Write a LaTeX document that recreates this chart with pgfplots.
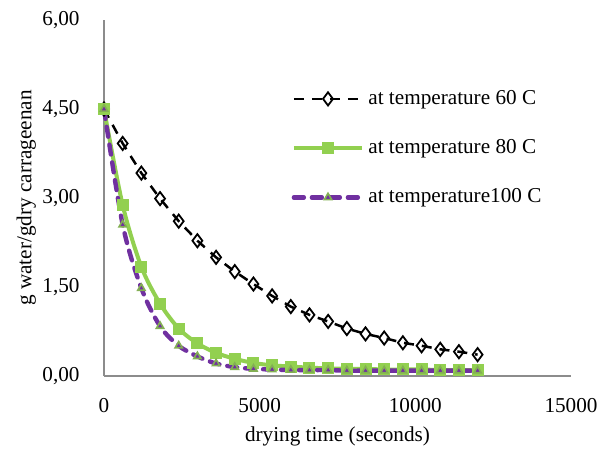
\documentclass[border=0pt]{standalone}
\usepackage{fontspec}
\setmainfont{Liberation Serif}
\usepackage{pgfplots}
\pgfplotsset{compat=1.18}

\definecolor{exgreen}{HTML}{92D050}
\definecolor{expurple}{HTML}{7030A0}
\definecolor{axgray}{HTML}{8C8C8C}

\begin{document}
\fontsize{10.6}{12.7}\selectfont
\begin{tikzpicture}
\begin{axis}[
  name=ax,
  width=233.5pt, height=178pt,
  scale only axis,
  xmin=0, xmax=15000,
  ymin=0, ymax=6,
  axis x line=bottom, axis y line=left,
  axis line style={axgray, line width=0.7pt, -},
  xtick={0,5000,10000,15000},
  ytick={0,1.5,3,4.5,6},
  scaled x ticks=false,
  major tick length=0pt,
  xticklabel style={/pgf/number format/1000 sep={}},
  yticklabel style={/pgf/number format/.cd, fixed, fixed zerofill, precision=2, use comma},
  /pgf/number format/assume math mode=true,
  ticklabel style={font=\fontsize{10.6}{12.7}\selectfont},
  tick label style={inner sep=2pt},
  yticklabel shift=10pt,
  xticklabel shift=9pt,
  xlabel={drying time (seconds)},
  ylabel={g water/gdry carrageenan},
  xlabel style={yshift=-1.5pt},
  ylabel style={yshift=-2.5pt},
  legend style={draw=none, fill=none, at={(0.401,0.815)}, anchor=north west,
    row sep=12pt, font=\fontsize{10.6}{12.7}\selectfont, inner sep=0pt},
  legend cell align=left,
  legend image code/.code={\draw[mark repeat=2,mark phase=2] plot coordinates {(0cm,0cm)(0.6cm,0cm)(1.2cm,0cm)};},
  clip=false,
]
\addplot[black, line width=1.25pt, dash pattern=on 5pt off 4pt,
  mark=diamond, mark size=3.3pt, mark options={solid, line width=0.9pt}] coordinates {
  (0,4.50) (600,3.92) (1200,3.42) (1800,2.99) (2400,2.61) (3000,2.28) (3600,2.00)
  (4200,1.76) (4800,1.55) (5400,1.35) (6000,1.17) (6600,1.03) (7200,0.92) (7800,0.80)
  (8400,0.71) (9000,0.64) (9600,0.56) (10200,0.51) (10800,0.45) (11400,0.41) (12000,0.36)
};
\addplot[exgreen, line width=2pt, smooth,
  mark=square*, mark size=2pt, mark options={solid, fill=exgreen}] coordinates {
  (0,4.50) (600,2.88) (1200,1.84) (1800,1.22) (2400,0.80) (3000,0.55) (3600,0.39)
  (4200,0.29) (4800,0.22) (5400,0.18) (6000,0.16) (6600,0.14) (7200,0.13) (7800,0.12)
  (8400,0.12) (9000,0.11) (9600,0.11) (10200,0.11) (10800,0.10) (11400,0.10) (12000,0.10)
};
\addplot[expurple, line width=2.2pt, smooth, line cap=round, dash pattern=on 5pt off 4pt,
  mark=triangle*, mark size=2.1pt, mark options={solid, fill=expurple, draw=exgreen!80!black!90, line width=0.8pt}] coordinates {
  (0,4.50) (600,2.55) (1200,1.48) (1800,0.84) (2400,0.51) (3000,0.33) (3600,0.21)
  (4200,0.15) (4800,0.12) (5400,0.11) (6000,0.10) (6600,0.10) (7200,0.10) (7800,0.09)
  (8400,0.09) (9000,0.09) (9600,0.09) (10200,0.09) (10800,0.09) (11400,0.09) (12000,0.09)
};
\legend{at temperature 60 C, at temperature 80 C, at temperature100 C}
\end{axis}
\pgfresetboundingbox
\path ([shift={(-52pt,-38pt)}]ax.south west) rectangle ([shift={(255pt,188pt)}]ax.south west);
\end{tikzpicture}
\end{document}
